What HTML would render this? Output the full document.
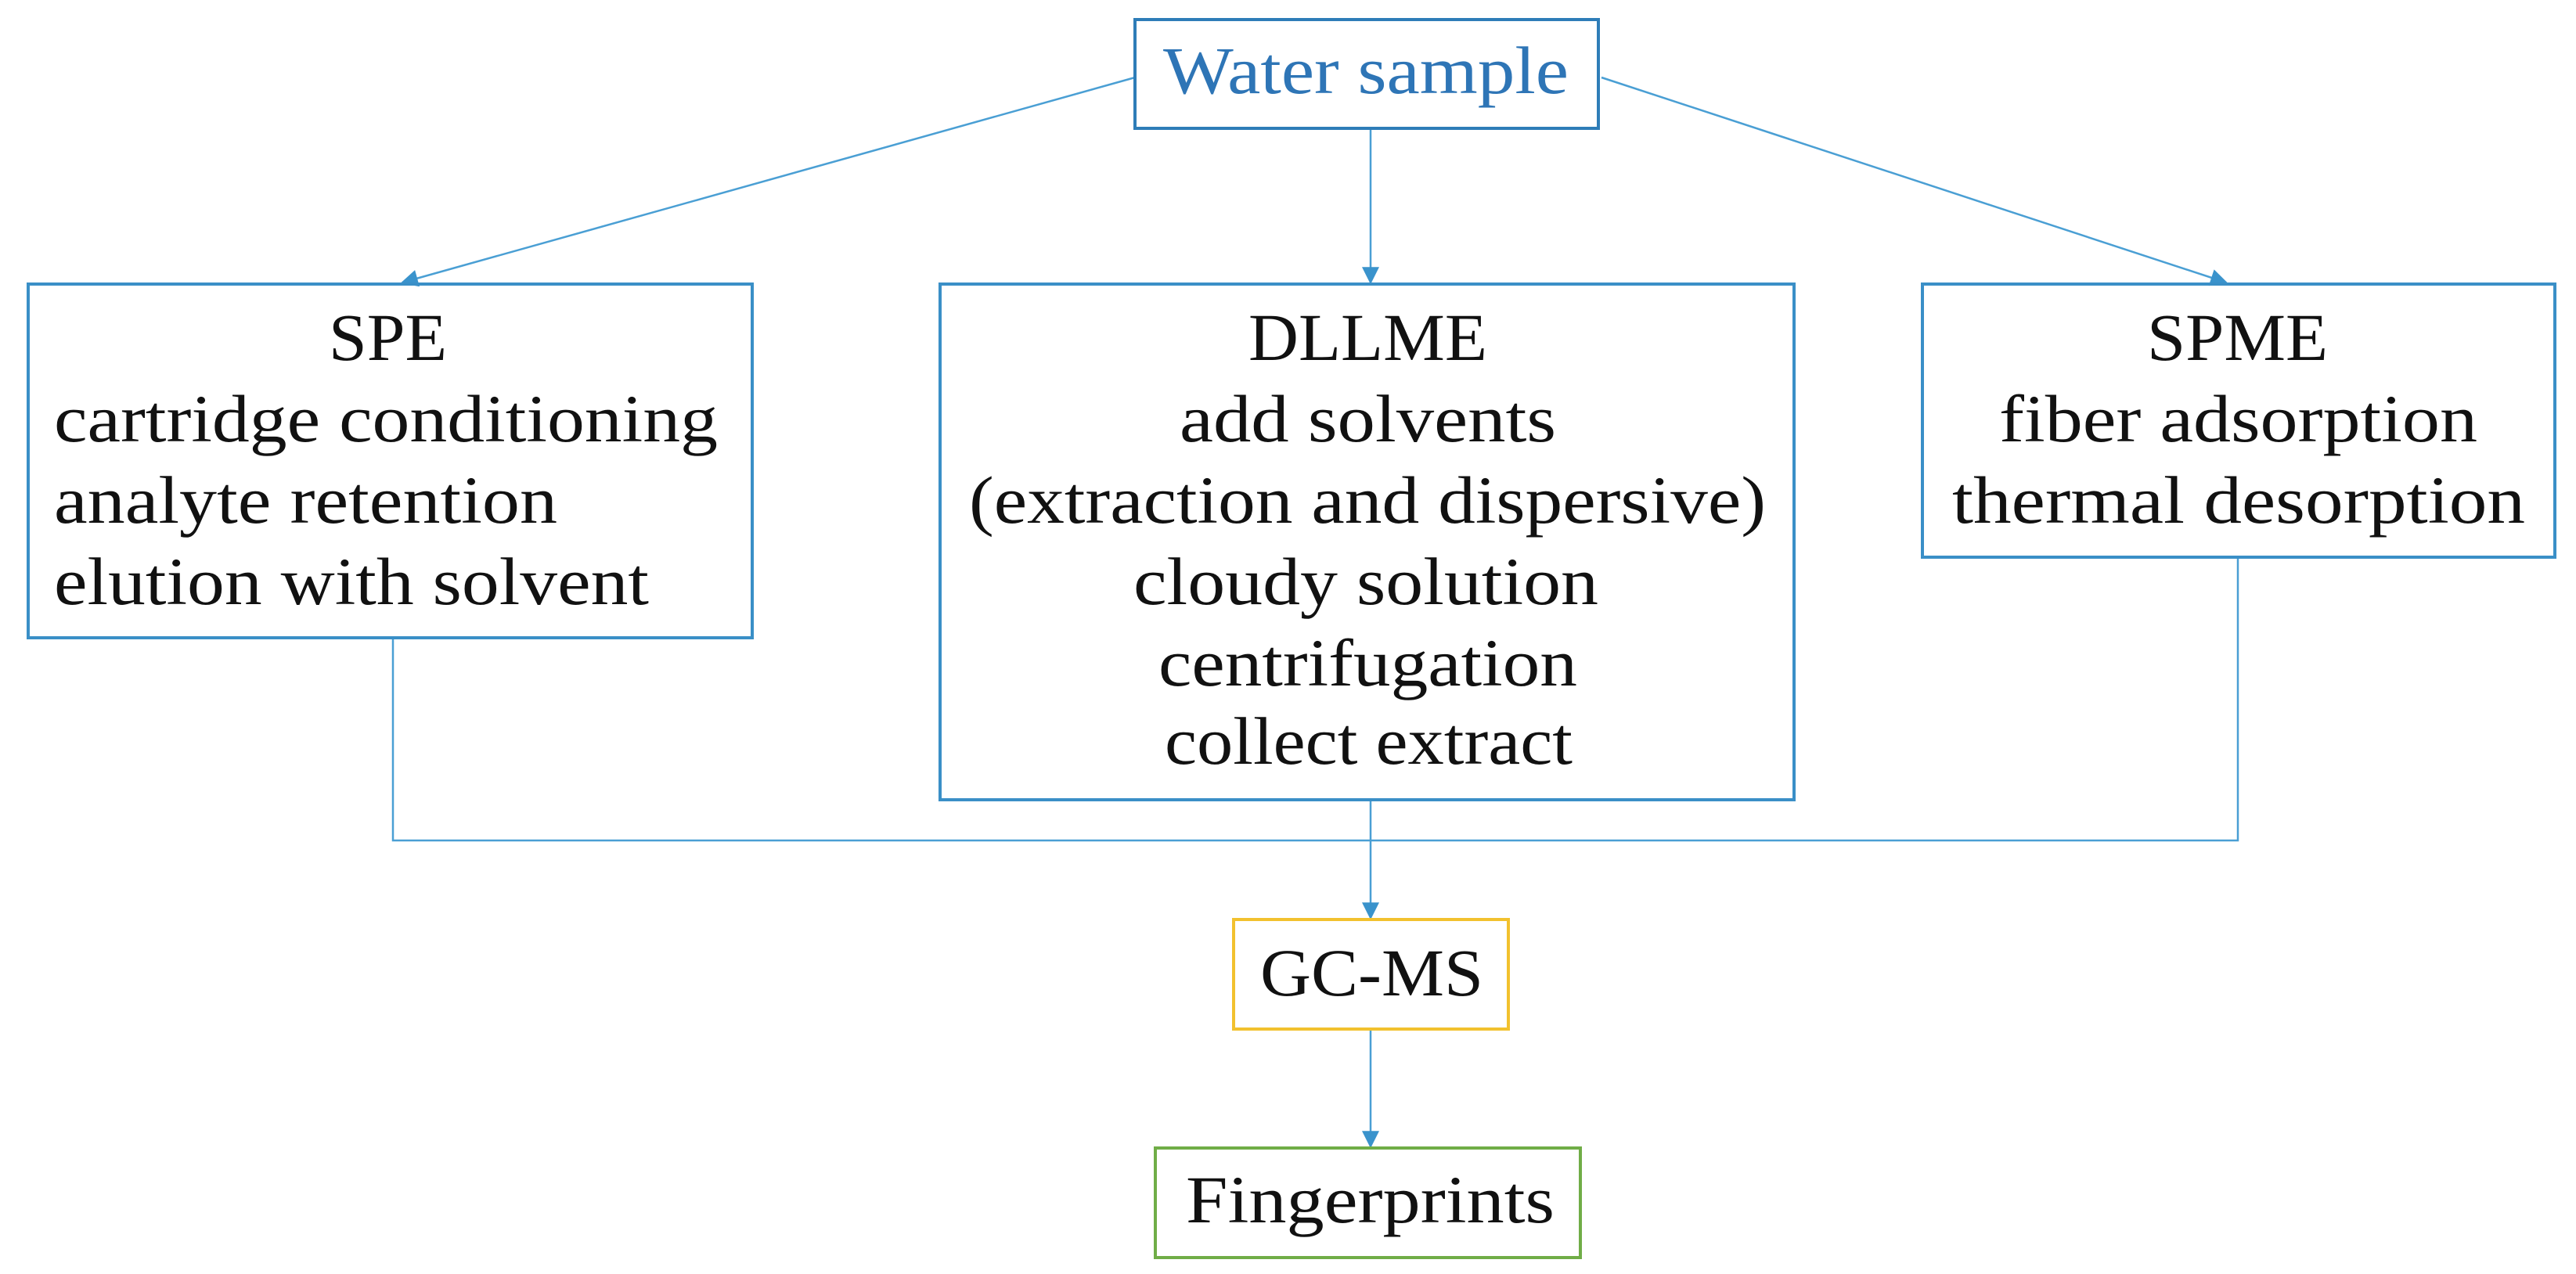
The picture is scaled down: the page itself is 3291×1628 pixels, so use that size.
<!DOCTYPE html>
<html><head><meta charset="utf-8"><style>html,body{margin:0;padding:0;background:#fff}svg{display:block}</style></head>
<body>
<svg width="3291" height="1628" viewBox="0 0 3291 1628" xmlns="http://www.w3.org/2000/svg" font-family="'Liberation Serif', serif" font-size="86" fill="#111">
<defs><marker id="a" markerWidth="10" markerHeight="10" refX="9" refY="5" orient="auto" markerUnits="userSpaceOnUse" viewBox="0 0 10 10"><path d="M0,0 L10,5 L0,10 z" fill="#3A93CC"/></marker>
<marker id="b" viewBox="0 0 10 10" refX="9" refY="5" markerWidth="24" markerHeight="22" orient="auto" markerUnits="userSpaceOnUse"><path d="M0,0 L10,5 L0,10 z" fill="#3A93CC"/></marker></defs>
<g stroke="#4A9FD4" stroke-width="2.5" fill="none">
<line x1="1450" y1="99" x2="514" y2="361" marker-end="url(#b)"/>
<line x1="2046" y1="99" x2="2844" y2="361" marker-end="url(#b)"/>
<line x1="1751" y1="164" x2="1751" y2="361" marker-end="url(#b)"/>
<polyline points="502,815 502,1074 2859,1074 2859,712"/>
<line x1="1751" y1="1022" x2="1751" y2="1173" marker-end="url(#b)"/>
<line x1="1751" y1="1315" x2="1751" y2="1465" marker-end="url(#b)"/>
</g>
<g fill="none" stroke-width="4">
<rect x="1450" y="25" width="592" height="139" stroke="#2E7DB8"/>
<rect x="36" y="363" width="925" height="452" stroke="#3A8FC7"/>
<rect x="1201" y="363" width="1091" height="659" stroke="#3A8FC7"/>
<rect x="2456" y="363" width="808" height="349" stroke="#3A8FC7"/>
<rect x="1576" y="1175" width="351" height="140" stroke="#F2C12E"/>
<rect x="1476" y="1467" width="543" height="140" stroke="#70AD47"/>
</g>
<text x="1486" y="119" fill="#2E75B6" textLength="518" lengthAdjust="spacingAndGlyphs">Water sample</text>
<text x="420" y="460" textLength="151" lengthAdjust="spacingAndGlyphs">SPE</text>
<text x="69" y="564" textLength="848" lengthAdjust="spacingAndGlyphs">cartridge conditioning</text>
<text x="69" y="668" textLength="643" lengthAdjust="spacingAndGlyphs">analyte retention</text>
<text x="69" y="772" textLength="760" lengthAdjust="spacingAndGlyphs">elution with solvent</text>
<text x="1595" y="460" textLength="305" lengthAdjust="spacingAndGlyphs">DLLME</text>
<text x="1507" y="564" textLength="481" lengthAdjust="spacingAndGlyphs">add solvents</text>
<text x="1238" y="668" textLength="1018" lengthAdjust="spacingAndGlyphs">(extraction and dispersive)</text>
<text x="1448" y="772" textLength="594" lengthAdjust="spacingAndGlyphs">cloudy solution</text>
<text x="1480" y="876" textLength="535" lengthAdjust="spacingAndGlyphs">centrifugation</text>
<text x="1488" y="976" textLength="521" lengthAdjust="spacingAndGlyphs">collect extract</text>
<text x="2743" y="460" textLength="231" lengthAdjust="spacingAndGlyphs">SPME</text>
<text x="2554" y="564" textLength="611" lengthAdjust="spacingAndGlyphs">fiber adsorption</text>
<text x="2494" y="668" textLength="732" lengthAdjust="spacingAndGlyphs">thermal desorption</text>
<text x="1610" y="1272" textLength="285" lengthAdjust="spacingAndGlyphs">GC-MS</text>
<text x="1515" y="1562" textLength="471" lengthAdjust="spacingAndGlyphs">Fingerprints</text>
</svg>
</body></html>
